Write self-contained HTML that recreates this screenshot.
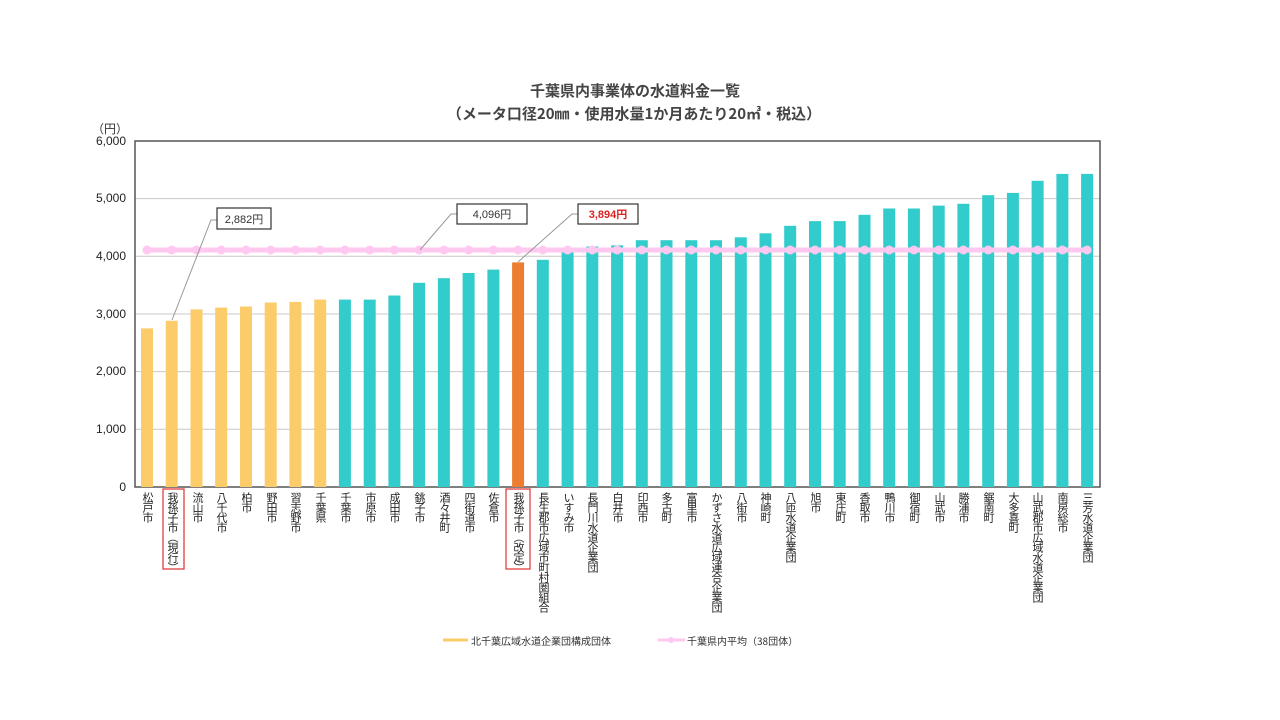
<!DOCTYPE html>
<html><head><meta charset="utf-8"><style>
body{margin:0;width:1280px;height:720px;background:#fff;position:relative;overflow:hidden;font-family:"Liberation Sans","Noto Sans CJK JP",sans-serif;}
.t{position:absolute;color:#333;}
.lb{position:absolute;top:492px;width:14px;font-size:11px;line-height:12px;writing-mode:vertical-rl;text-orientation:upright;color:#222;font-family:"Noto Sans CJK JP",sans-serif;letter-spacing:-1px;}
.yl{position:absolute;left:84px;width:42px;text-align:right;font-size:12px;color:#222;}
</style></head><body>
<div class="t" style="left:0;width:1270px;top:80px;text-align:center;font-size:15px;font-weight:bold;font-family:'Noto Sans CJK JP',sans-serif;color:#444;">千葉県内事業体の水道料金一覧</div>
<div class="t" style="left:0;width:1268px;top:103px;text-align:center;font-size:15px;font-weight:bold;font-family:'Noto Sans CJK JP',sans-serif;color:#444;">（メータ口径20㎜・使用水量1か月あたり20㎥・税込）</div>
<div class="t" style="left:92px;top:120px;font-size:12px;">（円）</div>
<div class="yl" style="top:134px">6,000</div>
<div class="yl" style="top:191px">5,000</div>
<div class="yl" style="top:249px">4,000</div>
<div class="yl" style="top:307px">3,000</div>
<div class="yl" style="top:364px">2,000</div>
<div class="yl" style="top:422px">1,000</div>
<div class="yl" style="top:480px">0</div>
<svg width="1280" height="720" style="position:absolute;left:0;top:0">
<g stroke="#c8c8c8" stroke-width="1">
<line x1="135" x2="1100" y1="198.6" y2="198.6"/><line x1="135" x2="1100" y1="256.3" y2="256.3"/>
<line x1="135" x2="1100" y1="314" y2="314"/><line x1="135" x2="1100" y1="371.6" y2="371.6"/>
<line x1="135" x2="1100" y1="429.3" y2="429.3"/><line x1="135" x2="1100" y1="487" y2="487"/>
</g>
<rect x="135" y="141" width="965" height="346" fill="none" stroke="#555" stroke-width="1.5"/>
<g fill="#fccb6a">
<rect x="141" y="328.4" width="12" height="158.6"/><rect x="165.7" y="320.8" width="12" height="166.2"/>
<rect x="190.5" y="309.4" width="12" height="177.6"/><rect x="215.2" y="307.6" width="12" height="179.4"/>
<rect x="240" y="306.5" width="12" height="180.5"/><rect x="264.7" y="302.5" width="12" height="184.5"/>
<rect x="289.4" y="301.9" width="12" height="185.1"/><rect x="314.2" y="299.6" width="12" height="187.4"/>
</g>
<g fill="#33cccc">
<rect x="338.9" y="299.6" width="12" height="187.4"/><rect x="363.7" y="299.6" width="12" height="187.4"/>
<rect x="388.4" y="295.5" width="12" height="191.5"/><rect x="413.1" y="282.8" width="12" height="204.2"/>
<rect x="437.9" y="278.2" width="12" height="208.8"/><rect x="462.6" y="273" width="12" height="214"/>
<rect x="487.4" y="269.6" width="12" height="217.4"/>
<rect x="536.8" y="259.8" width="12" height="227.2"/><rect x="561.6" y="251.1" width="12" height="235.9"/>
<rect x="586.3" y="246.5" width="12" height="240.5"/><rect x="611.1" y="245.4" width="12" height="241.6"/>
<rect x="635.8" y="240.2" width="12" height="246.8"/><rect x="660.5" y="240.2" width="12" height="246.8"/>
<rect x="685.3" y="240.2" width="12" height="246.8"/><rect x="710" y="240.2" width="12" height="246.8"/>
<rect x="734.8" y="237.3" width="12" height="249.7"/><rect x="759.5" y="233.3" width="12" height="253.7"/>
<rect x="784.2" y="225.8" width="12" height="261.2"/><rect x="809" y="221.1" width="12" height="265.9"/>
<rect x="833.7" y="221.1" width="12" height="265.9"/><rect x="858.5" y="214.8" width="12" height="272.2"/>
<rect x="883.2" y="208.5" width="12" height="278.5"/><rect x="907.9" y="208.5" width="12" height="278.5"/>
<rect x="932.7" y="205.6" width="12" height="281.4"/><rect x="957.4" y="203.8" width="12" height="283.2"/>
<rect x="982.2" y="195.2" width="12" height="291.8"/><rect x="1006.9" y="192.9" width="12" height="294.1"/>
<rect x="1031.6" y="180.8" width="12" height="306.2"/><rect x="1056.4" y="173.9" width="12" height="313.1"/>
<rect x="1081.1" y="173.9" width="12" height="313.1"/>
</g>
<rect x="512.1" y="262.4" width="12" height="224.6" fill="#ed7d31"/>
<line x1="147" x2="1087" y1="250" y2="250" stroke="#ffc8f0" stroke-width="5"/>
<g fill="#ffc8f0">
<circle cx="147" cy="250" r="4.5"/><circle cx="171.7" cy="250" r="4.5"/><circle cx="196.5" cy="250" r="4.5"/><circle cx="221.2" cy="250" r="4.5"/><circle cx="246" cy="250" r="4.5"/><circle cx="270.7" cy="250" r="4.5"/><circle cx="295.4" cy="250" r="4.5"/><circle cx="320.2" cy="250" r="4.5"/><circle cx="344.9" cy="250" r="4.5"/><circle cx="369.7" cy="250" r="4.5"/><circle cx="394.4" cy="250" r="4.5"/><circle cx="419.1" cy="250" r="4.5"/><circle cx="443.9" cy="250" r="4.5"/><circle cx="468.6" cy="250" r="4.5"/><circle cx="493.4" cy="250" r="4.5"/><circle cx="518.1" cy="250" r="4.5"/><circle cx="542.8" cy="250" r="4.5"/><circle cx="567.6" cy="250" r="4.5"/><circle cx="592.3" cy="250" r="4.5"/><circle cx="617.1" cy="250" r="4.5"/><circle cx="641.8" cy="250" r="4.5"/><circle cx="666.5" cy="250" r="4.5"/><circle cx="691.3" cy="250" r="4.5"/><circle cx="716" cy="250" r="4.5"/><circle cx="740.8" cy="250" r="4.5"/><circle cx="765.5" cy="250" r="4.5"/><circle cx="790.2" cy="250" r="4.5"/><circle cx="815" cy="250" r="4.5"/><circle cx="839.7" cy="250" r="4.5"/><circle cx="864.5" cy="250" r="4.5"/><circle cx="889.2" cy="250" r="4.5"/><circle cx="913.9" cy="250" r="4.5"/><circle cx="938.7" cy="250" r="4.5"/><circle cx="963.4" cy="250" r="4.5"/><circle cx="988.2" cy="250" r="4.5"/><circle cx="1012.9" cy="250" r="4.5"/><circle cx="1037.6" cy="250" r="4.5"/><circle cx="1062.4" cy="250" r="4.5"/><circle cx="1087.1" cy="250" r="4.5"/>
</g>
<g stroke="#999" stroke-width="1" fill="none">
<polyline points="217,220 211,220 172,320"/>
<polyline points="457,214 451,214 420,250"/>
<polyline points="578,214 572,214 518,262"/>
</g>
<g fill="#fff" stroke="#333" stroke-width="1.2">
<rect x="217" y="208" width="54" height="21"/>
<rect x="457" y="204" width="70" height="20"/>
<rect x="578" y="204" width="60" height="20"/>
</g>
<text x="244" y="223" font-size="11" text-anchor="middle" fill="#333" font-family="Liberation Sans, Noto Sans CJK JP, sans-serif">2,882円</text>
<text x="492" y="218" font-size="11" text-anchor="middle" fill="#333" font-family="Liberation Sans, Noto Sans CJK JP, sans-serif">4,096円</text>
<text x="608" y="218" font-size="11" font-weight="bold" text-anchor="middle" fill="#e02020" font-family="Liberation Sans, Noto Sans CJK JP, sans-serif">3,894円</text>
<rect x="163" y="489" width="21" height="80" fill="none" stroke="#e03030" stroke-width="1.2"/>
<rect x="506" y="489" width="24" height="80" fill="none" stroke="#e03030" stroke-width="1.2"/>
<line x1="443" x2="468" y1="640" y2="640" stroke="#fccb6a" stroke-width="3"/>
<line x1="658" x2="685" y1="640" y2="640" stroke="#ffc8f0" stroke-width="3"/>
<circle cx="671" cy="640" r="3" fill="#ffc8f0"/>
</svg>
<div class="t" style="left:471px;top:633px;font-size:10px;font-family:'Noto Sans CJK JP',sans-serif;">北千葉広域水道企業団構成団体</div>
<div class="t" style="left:687px;top:633px;font-size:10px;font-family:'Noto Sans CJK JP',sans-serif;">千葉県内平均（38団体）</div>
<div class="lb" style="left:140px">松戸市</div>
<div class="lb" style="left:165px">我孫子市︵現行︶</div>
<div class="lb" style="left:190px">流山市</div>
<div class="lb" style="left:214px">八千代市</div>
<div class="lb" style="left:239px">柏市</div>
<div class="lb" style="left:264px">野田市</div>
<div class="lb" style="left:288px">習志野市</div>
<div class="lb" style="left:313px">千葉県</div>
<div class="lb" style="left:338px">千葉市</div>
<div class="lb" style="left:363px">市原市</div>
<div class="lb" style="left:387px">成田市</div>
<div class="lb" style="left:412px">銚子市</div>
<div class="lb" style="left:437px">酒々井町</div>
<div class="lb" style="left:462px">四街道市</div>
<div class="lb" style="left:486px">佐倉市</div>
<div class="lb" style="left:511px">我孫子市︵改定︶</div>
<div class="lb" style="left:536px">長生郡市広域市町村圏組合</div>
<div class="lb" style="left:561px">いすみ市</div>
<div class="lb" style="left:585px">長門川水道企業団</div>
<div class="lb" style="left:610px">白井市</div>
<div class="lb" style="left:635px">印西市</div>
<div class="lb" style="left:659px">多古町</div>
<div class="lb" style="left:684px">富里市</div>
<div class="lb" style="left:709px">かずさ水道広域連合企業団</div>
<div class="lb" style="left:734px">八街市</div>
<div class="lb" style="left:758px">神崎町</div>
<div class="lb" style="left:783px">八匝水道企業団</div>
<div class="lb" style="left:808px">旭市</div>
<div class="lb" style="left:833px">東庄町</div>
<div class="lb" style="left:857px">香取市</div>
<div class="lb" style="left:882px">鴨川市</div>
<div class="lb" style="left:907px">御宿町</div>
<div class="lb" style="left:932px">山武市</div>
<div class="lb" style="left:956px">勝浦市</div>
<div class="lb" style="left:981px">鋸南町</div>
<div class="lb" style="left:1006px">大多喜町</div>
<div class="lb" style="left:1030px">山武郡市広域水道企業団</div>
<div class="lb" style="left:1055px">南房総市</div>
<div class="lb" style="left:1080px">三芳水道企業団</div>
</body></html>
